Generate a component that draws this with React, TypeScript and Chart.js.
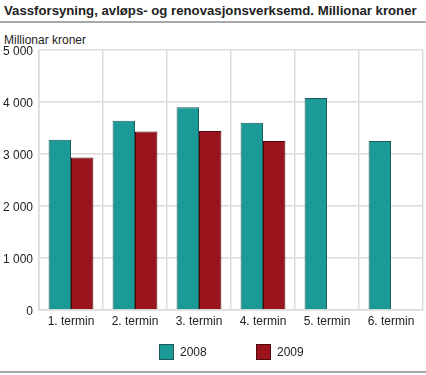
import React, { useEffect, useRef } from "react";
import { Chart, registerables } from "chart.js";

Chart.register(...registerables);

const categories = ["1. termin", "2. termin", "3. termin", "4. termin", "5. termin", "6. termin"];
const series2008 = [3275, 3640, 3897, 3600, 4078, 3250];
const series2009: (number | null)[] = [2935, 3432, 3440, 3250, null, null];
const seriesNames = ["2008", "2009"];
const yTicks = [0, 1000, 2000, 3000, 4000, 5000];

const TEAL = "#1c9a98";
const RED = "#9b141d";
const FONT = "'Liberation Sans', Arial, sans-serif";

export default function App() {
  const ref = useRef<HTMLCanvasElement | null>(null);
  useEffect(() => {
    if (!ref.current) return;
    const chart = new Chart(ref.current, {
      type: "bar",
      data: {
        labels: categories,
        datasets: [
          { label: seriesNames[0], data: series2008, backgroundColor: TEAL, borderColor: "#1d5c5b", borderWidth: 1, borderSkipped: "bottom" },
          { label: seriesNames[1], data: series2009, backgroundColor: RED, borderColor: "#4d0a0e", borderWidth: 1, borderSkipped: "bottom" },
        ],
      },
      options: {
        animation: false,
        responsive: false,
        maintainAspectRatio: false,
        layout: { padding: { top: 50, left: 0, right: 3, bottom: 35 } },
        plugins: { legend: { display: false }, tooltip: { enabled: false }, title: { display: false } },
        datasets: { bar: { categoryPercentage: 0.7, barPercentage: 1 } },
        scales: {
          x: {
            grid: { color: "#dcdcdc", lineWidth: 1.5, drawTicks: false, offset: true },
            border: { color: "#dcdcdc", width: 1.5 },
            ticks: { color: "#222", font: { family: FONT, size: 12 }, padding: 4, maxRotation: 0 },
            afterFit: (s: any) => { s.height = 30; },
          },
          y: {
            min: 0,
            max: 5000,
            afterBuildTicks: (s: any) => { s.ticks = yTicks.map((v) => ({ value: v })); },
            grid: { color: "#dcdcdc", lineWidth: 1.5, drawTicks: false },
            border: { color: "#dcdcdc", width: 1.5 },
            ticks: {
              color: "#222",
              font: { family: FONT, size: 12 },
              padding: 6,
              labelOffset: 2,
              callback: (v: any) => String(v).replace(/\B(?=(\d{3})+(?!\d))/g, " "),
            },
            afterFit: (s: any) => { s.width = 39; },
          },
        },
      },
    });
    return () => chart.destroy();
  }, []);

  return (
    <div style={{ position: "absolute", left: 0, top: 0, width: 426, height: 375, fontFamily: FONT, color: "#222", background: "#fff" }}>
      <div style={{ position: "absolute", left: 4, top: 3, fontSize: 13.2, fontWeight: "bold", whiteSpace: "nowrap", lineHeight: "16px" }}>
        Vassforsyning, avløps- og renovasjonsverksemd. Millionar kroner
      </div>
      <div style={{ position: "absolute", left: 0, top: 21, width: 426, height: 2, background: "#a8a8a8" }} />
      <div style={{ position: "absolute", left: 4, top: 33, fontSize: 12, lineHeight: "14px", whiteSpace: "nowrap" }}>Millionar kroner</div>
      <canvas ref={ref} width={426} height={375} style={{ position: "absolute", left: 0, top: 0 }} />
      <div style={{ position: "absolute", left: 159, top: 344, width: 13, height: 14, background: TEAL, border: "1px solid #1d5c5b" }} />
      <div style={{ position: "absolute", left: 180, top: 345, fontSize: 12, lineHeight: "14px" }}>{seriesNames[0]}</div>
      <div style={{ position: "absolute", left: 256, top: 344, width: 13, height: 14, background: RED, border: "1px solid #4d0a0e" }} />
      <div style={{ position: "absolute", left: 277, top: 345, fontSize: 12, lineHeight: "14px" }}>{seriesNames[1]}</div>
      <div style={{ position: "absolute", left: 0, top: 371, width: 426, height: 2, background: "#a8a8a8" }} />
    </div>
  );
}
